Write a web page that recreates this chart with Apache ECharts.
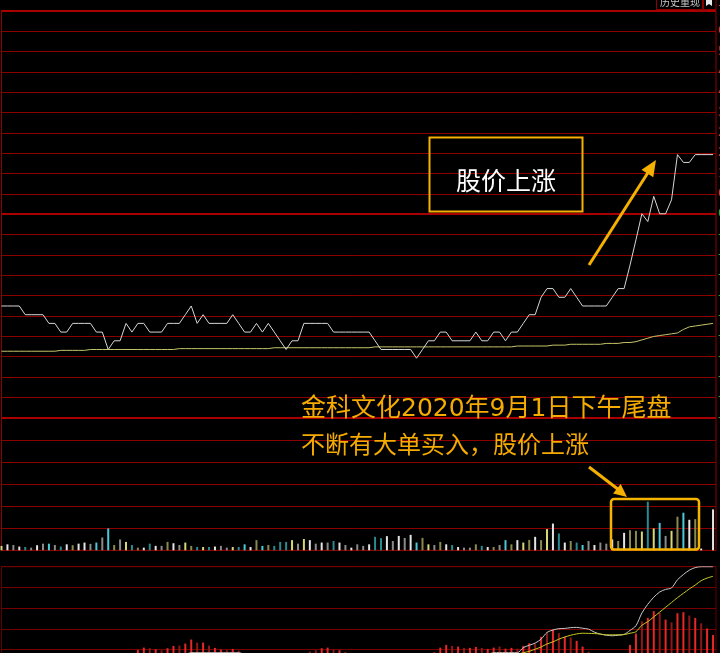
<!DOCTYPE html>
<html><head><meta charset="utf-8">
<script src="https://cdn.jsdelivr.net/npm/echarts@6/dist/echarts.min.js"></script>
<style>html,body{margin:0;padding:0;background:#000;overflow:hidden}#c{width:720px;height:653px}</style>
</head><body><div id="c"></div>
<script>
// ---- data (121 samples, one every 2 minutes, 09:30-11:30 / 13:00-15:00) ----
const times = [];
for (let m = 9*60+30; m <= 11*60+30; m += 2) times.push(String(Math.floor(m/60)).padStart(2,'0')+':'+String(m%60).padStart(2,'0'));
for (let m = 13*60+2; m <= 15*60; m += 2) times.push(String(Math.floor(m/60)).padStart(2,'0')+':'+String(m%60).padStart(2,'0'));

const preClose = 3.2955;
const price = [
 3.19,3.19,3.19,3.19,3.18,3.18,3.18,3.18,3.17,3.17,
 3.16,3.16,3.17,3.17,3.17,3.17,3.16,3.16,3.14,3.15,
 3.15,3.17,3.16,3.17,3.17,3.16,3.16,3.16,3.17,3.17,
 3.17,3.18,3.19,3.17,3.18,3.17,3.17,3.17,3.17,3.18,
 3.17,3.16,3.16,3.17,3.16,3.17,3.16,3.15,3.14,3.15,
 3.15,3.17,3.17,3.17,3.17,3.17,3.16,3.16,3.16,3.16,
 3.16,3.16,3.16,3.15,3.14,3.14,3.14,3.14,3.14,3.14,
 3.13,3.14,3.15,3.15,3.16,3.16,3.15,3.15,3.15,3.15,
 3.16,3.15,3.15,3.16,3.16,3.15,3.16,3.16,3.17,3.18,
 3.18,3.20,3.21,3.21,3.20,3.20,3.21,3.20,3.19,3.19,
 3.19,3.19,3.19,3.20,3.21,3.21,3.237,3.266,3.296,3.287,
 3.316,3.296,3.296,3.312,3.364,3.355,3.355,3.364,3.364,3.364,
 3.364
];
const avgPrice = [
 3.138,3.138,3.138,3.138,3.138,3.138,3.138,3.138,3.138,3.138,
 3.139,3.139,3.139,3.139,3.139,3.140,3.140,3.140,3.140,3.140,
 3.140,3.140,3.140,3.140,3.140,3.140,3.140,3.140,3.140,3.140,
 3.141,3.141,3.141,3.141,3.141,3.141,3.141,3.141,3.141,3.141,
 3.141,3.141,3.141,3.141,3.141,3.141,3.142,3.142,3.142,3.142,
 3.142,3.142,3.142,3.142,3.142,3.142,3.142,3.142,3.142,3.142,
 3.142,3.142,3.142,3.143,3.143,3.143,3.143,3.143,3.143,3.143,
 3.143,3.143,3.143,3.143,3.143,3.143,3.143,3.143,3.143,3.143,
 3.143,3.143,3.143,3.143,3.143,3.143,3.143,3.144,3.144,3.144,
 3.144,3.144,3.144,3.145,3.145,3.145,3.146,3.146,3.146,3.146,
 3.146,3.146,3.147,3.147,3.147,3.148,3.148,3.149,3.151,3.153,
 3.155,3.156,3.157,3.158,3.159,3.163,3.166,3.167,3.168,3.169,
 3.170
];
const volume = [
 20,27,24,17,15,12,23,30,30,24,
 17,27,23,30,35,29,35,58,99,24,
 49,38,24,12,12,30,20,20,38,32,
 24,35,20,15,15,15,17,20,12,15,
 15,27,15,46,20,24,20,38,38,46,
 30,51,46,30,35,35,42,35,24,12,
 27,20,27,61,55,64,42,65,56,70,
 35,56,27,24,38,27,24,15,12,12,
 27,20,15,15,24,46,27,46,35,47,
 61,46,96,121,76,35,42,35,24,42,
 24,35,30,49,42,79,91,88,85,220,
 99,124,65,88,152,170,138,141,8,0,
 185
];
// trade class of each volume bar: W white, G grey, C cyan, T teal, O olive, Y yellow
const volType = [
 'Y','W','G','W','T','G','W','G','C','G',
 'T','W','O','W','W','G','C','G','C','O',
 'G','Y','T','O','W','T','W','G','O','W',
 'G','Y','O','T','Y','T','W','G','G','Y',
 'T','C','W','O','C','O','T','T','T','Y',
 'G','Y','W','G','W','G','T','W','G','W',
 'G','G','W','T','T','W','G','W','G','W',
 'C','O','Y','G','O','W','T','W','G','G',
 'O','T','W','O','G','C','O','W','Y','O',
 'W','O','Y','W','T','W','O','T','C','G',
 'W','G','G','W','O','W','O','O','Y','T',
 'Y','C','G','Y','O','C','W','O','W','W',
 'W'
];
// lower indicator panel: bars and two lines (0-100 scale)
const bigOrder = [
 0,0,0,0,0,0,0,0,0,0,
 0,0,0,0,0,0,0,0,0,0,
 0,0,0,4.6,7.3,6.6,5.4,4.3,6.6,9.3,
 9.6,11.9,16.6,13.1,13.1,9.6,7,5,4.3,5.8,
 3.8,0,0,0,0,0,0,0,0,0,
 0,0,2.7,4.3,6.6,7.3,5,4.3,2.3,0,
 0,0,0,0,0,0,0,0,0,0,
 0,0,0,2.3,7.3,10.4,9.3,8.5,7,7,
 8.1,7,5.8,7.3,8.5,6.1,7,6.1,9.3,12.4,
 11.9,19.7,24,27.8,24,19.7,18.9,15.1,8.5,2.7,
 0,0,0,0,0,0,10.4,23.5,37.4,41.4,
 49,47.2,39.4,36.3,46.7,47.9,44,41.4,35.1,29.3,
 21.7
];
const bigOrderType = [
 '-','-','-','-','-','-','-','-','-','-',
 '-','-','-','-','-','-','-','-','-','-',
 '-','-','-','R','R','D','R','D','R','R',
 'D','R','R','D','R','D','R','R','D','R',
 'D','-','-','-','-','-','-','-','-','-',
 '-','-','D','D','R','R','D','R','D','-',
 '-','-','-','-','-','-','-','-','-','-',
 '-','-','-','D','R','R','D','R','D','R',
 'R','D','R','R','D','R','R','D','R','R',
 'D','R','D','R','D','R','D','R','R','D',
 '-','-','-','-','-','-','R','R','D','R',
 'R','D','R','D','R','R','D','R','D','R',
 'R'
];
const lineA = [
 0,0,0,0,0,0,0,0,0,0,
 0,0,0,0,0,0,0,0,0,0,
 0,0,0,0,0,0,0,0,0,0,
 0,0,1.5,1.5,1.5,1.5,1.5,1.5,1.5,1.5,
 1.5,0,0,0,0,0,0,0,0,0,
 0,0,0,0,0,0,0,0,0,0,
 0,0,0,0,0,0,0,0,0,0,
 0,0,0,0,0,0,0,0,0,0,
 0,0,0,1.5,1.5,1.5,1.5,1.5,7.3,10,
 12.5,17,24.7,27.5,29,29.3,30.2,30.5,29.5,28.5,
 25,22.8,21.5,20.9,21.5,22.5,27,32.4,47,57,
 65,71,74,75.7,85,91,96,99,100,100,
 100
];
const lineB = [
 0,0,0,0,0,0,0,0,0,0,
 0,0,0,0,0,0,0,0,0,0,
 0,0,0,0,0,0,0,0,0,0,
 0,0,0,0,0,0,0,0,0,0,
 0,0,0,0,0,0,0,0,0,0,
 0,0,0,0,0,0,0,0,0,0,
 0,0,0,0,0,0,0,0,0,0,
 0,0,0,0,0,0,0,0,0,0,
 0,0,0,0,0,0,0,0,1.5,3,
 5.5,8,11.5,13.9,17,19.5,21.5,23,23.8,23.6,
 23.4,22.8,22,22,22,22.2,23.8,25.5,33,37,
 42.5,47.9,53.5,59,64.5,69.5,74.5,79,84,87,
 89
];

// ---- styling ----
const RED = '#8c0000';
const ORANGE = '#f5b000';
const volColors = {W:'#e4e4e4', G:'#8a8a8a', C:'#4cc8d8', T:'#2a8a90', O:'#8a8a4e', Y:'#d6d676'};
const redColors = {R:'#e62828', D:'#8e1818', '-':'#e62828'};
const P_MIN = 3.0616, P_MAX = 3.5294;
const pctStep = (P_MAX - P_MIN) / 20 / preClose * 100;

const xy = arr => arr.map((v, i) => [i, v]);
const X_MAX = 120.5;

const chart = echarts.init(document.getElementById('c'), null, {renderer: 'canvas'});
const gridLine = (c, w) => ({show: true, lineStyle: {color: c, width: w}});
const hiddenBits = {axisLine: {show: false}, axisTick: {show: false}, axisLabel: {show: false}};
const gridBase = {left: 1.5, width: 714.5, containLabel: false, outerBoundsMode: 'none'};
const option = {
  backgroundColor: '#000',
  animation: false,
  grid: [
    Object.assign({top: 10.7, height: 407, show: true, borderColor: RED, borderWidth: 1}, gridBase),
    Object.assign({top: 417.7, height: 132.6, show: true, borderColor: RED, borderWidth: 1}, gridBase),
    Object.assign({top: 566.7, height: 87.3}, gridBase),
    Object.assign({top: 566.7, height: 103.5, show: true, borderColor: '#600000', borderWidth: 1}, gridBase)
  ],
  xAxis: [0, 1, 2, 3].map(g => ({type: 'value', gridIndex: g, min: 0, max: X_MAX, show: false})),
  yAxis: [
    {gridIndex: 0, type: 'value', min: P_MIN, max: P_MAX, show: false},
    {gridIndex: 0, type: 'value', min: 0, max: 20, interval: 1, position: 'right',
      axisLine: {show: false}, axisTick: {show: false}, splitLine: gridLine(RED, 1),
      axisLabel: {show: true, margin: 2, fontSize: 12, fontFamily: 'DejaVu Sans',
        formatter: v => ((v - 10) * pctStep).toFixed(2) + '%',
        color: v => v > 10 ? '#e03030' : (v === 10 ? '#a0a0c0' : '#22b022')}},
    {gridIndex: 1, type: 'value', min: 0, max: 600, show: false},
    Object.assign({gridIndex: 1, type: 'value', min: 0, max: 6, interval: 1, splitLine: gridLine(RED, 1)}, hiddenBits),
    {gridIndex: 2, type: 'value', min: 0, max: 100, show: false},
    Object.assign({gridIndex: 3, type: 'value', min: 0, max: 5, interval: 1, splitLine: gridLine('#780000', 1)}, hiddenBits),
    // pre-close centre line (thicker), same grid as price
    Object.assign({gridIndex: 0, type: 'value', min: 0, max: 2, interval: 1, splitLine: gridLine('#a80000', 2)}, hiddenBits)
  ],
  series: [
    {type: 'line', name: 'price', xAxisIndex: 0, yAxisIndex: 0, data: xy(price), symbol: 'none',
      lineStyle: {color: '#d6d6d6', width: 1}, z: 5},
    {type: 'line', name: 'avg', xAxisIndex: 0, yAxisIndex: 0, data: xy(avgPrice), symbol: 'none',
      lineStyle: {color: '#c4c46a', width: 1}, z: 4},
    {type: 'bar', name: 'volume', xAxisIndex: 1, yAxisIndex: 2, barWidth: 2,
      data: volume.map((v, i) => ({value: [i, v], itemStyle: {color: volColors[volType[i]]}}))},
    {type: 'bar', name: 'bigOrder', xAxisIndex: 2, yAxisIndex: 4, barWidth: 2,
      data: bigOrder.map((v, i) => ({value: [i, v], itemStyle: {color: redColors[bigOrderType[i]]}}))},
    {type: 'line', name: 'lineA', xAxisIndex: 2, yAxisIndex: 4, data: xy(lineA), symbol: 'none', smooth: 0.3,
      lineStyle: {color: '#c8c8c8', width: 1}, z: 5},
    {type: 'line', name: 'lineB', xAxisIndex: 2, yAxisIndex: 4, data: xy(lineB), symbol: 'none', smooth: 0.3,
      lineStyle: {color: '#c8c820', width: 1}, z: 5}
  ],
  graphic: [
    // top-right toolbar button
    {type: 'rect', shape: {x: 656.5, y: -6, width: 46, height: 15.5}, style: {fill: '#000', stroke: RED, lineWidth: 1}, z: 50},
    {type: 'text', x: 660, y: -3, style: {text: '历史重现', fill: '#c8c8c8', font: '10px "Noto Sans CJK SC"', textVerticalAlign: 'top', verticalAlign: 'top'}, z: 51},
    {type: 'rect', shape: {x: 703.5, y: -6, width: 12.5, height: 15.5}, style: {fill: '#000', stroke: RED, lineWidth: 1}, z: 50},
    {type: 'polygon', shape: {points: [[706, 0], [712, 0], [712, 6], [709, 4], [706, 6]]}, style: {fill: '#e8e8e8'}, z: 51},
    // annotation box
    {type: 'rect', shape: {x: 429.5, y: 137.5, width: 153, height: 74}, style: {fill: 'rgba(0,0,0,0)', stroke: ORANGE, lineWidth: 2}, z: 50},
    {type: 'text', x: 506, y: 180, style: {text: '股价上涨', fill: '#ffffff', font: '25px "Noto Sans CJK SC"', textAlign: 'center', align: 'center', textVerticalAlign: 'middle', verticalAlign: 'middle'}, z: 51},
    {type: 'line', shape: {x1: 589, y1: 265, x2: 649, y2: 171}, style: {stroke: ORANGE, lineWidth: 3}, z: 50},
    {type: 'polygon', shape: {points: [[656, 160], [653.3, 177.3], [641.5, 169.7]]}, style: {fill: ORANGE}, z: 50},
    // caption
    {type: 'text', x: 301, y: 397, style: {text: '金科文化2020年9月1日下午尾盘', fill: '#f5ab00', font: '25px "DejaVu Sans", "Noto Sans CJK SC"', textVerticalAlign: 'top', verticalAlign: 'top'}, z: 51},
    {type: 'text', x: 301, y: 432, style: {text: '不断有大单买入，股价上涨', fill: '#f5ab00', font: '24px "Noto Sans CJK SC"', textVerticalAlign: 'top', verticalAlign: 'top'}, z: 51},
    {type: 'line', shape: {x1: 589, y1: 467, x2: 619, y2: 490}, style: {stroke: ORANGE, lineWidth: 3}, z: 50},
    {type: 'polygon', shape: {points: [[627, 497], [613.1, 493.5], [620.7, 484.1]]}, style: {fill: ORANGE}, z: 50},
    {type: 'rect', shape: {x: 611, y: 499, width: 88, height: 50.5, r: 3}, style: {fill: 'rgba(0,0,0,0)', stroke: '#f5b400', lineWidth: 2.5}, z: 50}
  ]
};
chart.setOption(option);
</script></body></html>
